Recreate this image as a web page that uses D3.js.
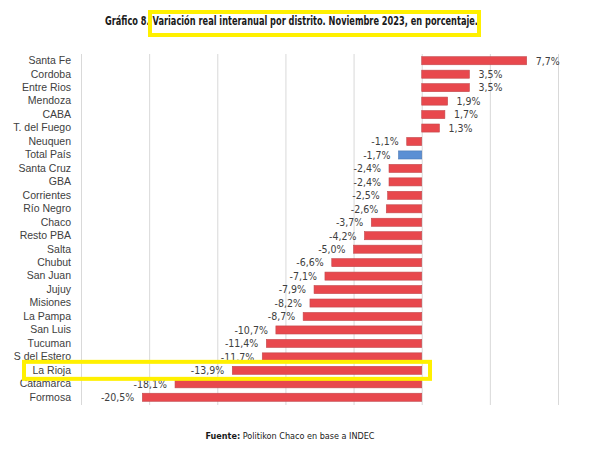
<!DOCTYPE html>
<html>
<head>
<meta charset="utf-8">
<script src="https://cdn.jsdelivr.net/npm/d3@7"></script>
<style>
  body { margin: 0; background: #fff; }
  svg { display: block; font-family: "Liberation Sans Narrow", "DejaVu Sans Condensed", sans-serif; }
</style>
</head>
<body>
<svg id="chart"></svg>
<script>
const districts = [
  "Santa Fe", "Cordoba", "Entre Rios", "Mendoza", "CABA", "T. del Fuego",
  "Neuquen", "Total País", "Santa Cruz", "GBA", "Corrientes", "Río Negro",
  "Chaco", "Resto PBA", "Salta", "Chubut", "San Juan", "Jujuy", "Misiones",
  "La Pampa", "San Luis", "Tucuman", "S del Estero", "La Rioja", "Catamarca", "Formosa"
];
const variation = [
  7.7, 3.5, 3.5, 1.9, 1.7, 1.3,
  -1.1, -1.7, -2.4, -2.4, -2.5, -2.6,
  -3.7, -4.2, -5.0, -6.6, -7.1, -7.9, -8.2,
  -8.7, -10.7, -11.4, -11.7, -13.9, -18.1, -20.5
];
const gridTicks = [-25, -20, -15, -10, -5, 0, 5, 10];

const width = 611, height = 460;
const margin = { top: 54, right: 53, bottom: 56, left: 81 };
const highlightTotal = "Total País";
const highlightRow = "La Rioja";

const data = districts.map((name, i) => ({ name, value: variation[i] }));

const svg = d3.select("#chart")
  .attr("width", width)
  .attr("height", height)
  .attr("viewBox", [0, 0, width, height]);

const x = d3.scaleLinear()
  .domain([-25, 10])
  .range([margin.left, width - margin.right]);

const y = d3.scaleBand()
  .domain(districts)
  .range([margin.top, height - margin.bottom])
  .paddingInner(0.4)
  .paddingOuter(0.2);

const fmt = v => d3.format(".1f")(v).replace("−", "-").replace(".", ",") + "%";

// vertical gridlines
svg.append("g")
  .selectAll("line")
  .data(gridTicks)
  .join("line")
  .attr("x1", d => x(d) + 0.5)
  .attr("x2", d => x(d) + 0.5)
  .attr("y1", margin.top)
  .attr("y2", height - margin.bottom + 1)
  .attr("stroke", "#d9d9d9")
  .attr("stroke-width", 1);

// bars
svg.append("g")
  .selectAll("rect")
  .data(data)
  .join("rect")
  .attr("x", d => x(Math.min(0, d.value)))
  .attr("y", d => y(d.name))
  .attr("width", d => Math.abs(x(d.value) - x(0)))
  .attr("height", y.bandwidth())
  .attr("fill", d => d.name === highlightTotal ? "#5b8fd4" : "#e8484d")
  .attr("stroke", d => d.name === highlightTotal ? "#4a78b4" : "#c24a4e")
  .attr("stroke-width", 0.6);

// value labels
svg.append("g")
  .attr("font-size", 10.5)
  .attr("fill", "#404040")
  .selectAll("text")
  .data(data)
  .join("text")
  .attr("x", d => d.value >= 0 ? x(d.value) + 9 : x(d.value) - 8)
  .attr("y", d => y(d.name) + y.bandwidth() / 2)
  .attr("dy", "0.36em")
  .attr("text-anchor", d => d.value >= 0 ? "start" : "end")
  .text(d => fmt(d.value));

// category axis
const yAxis = g => g
  .attr("transform", `translate(${margin.left - 10},0)`)
  .call(d3.axisLeft(y).tickSize(0).tickPadding(0))
  .call(g => g.select(".domain").remove())
  .call(g => g.selectAll("text")
    .attr("font-family", "inherit")
    .attr("font-size", 10.5)
    .attr("fill", "#404040"));

svg.append("g").call(yAxis);

// title (squeezed to the narrow width of the original font)
svg.append("text")
  .attr("x", 105)
  .attr("y", 25)
  .attr("font-size", 11.5)
  .attr("font-weight", "bold")
  .attr("fill", "#1a1a1a")
  .attr("textLength", 373)
  .attr("lengthAdjust", "spacingAndGlyphs")
  .text("Gráfico 8. Variación real interanual por distrito. Noviembre 2023, en porcentaje.");

// source
const src = svg.append("text")
  .attr("x", 290)
  .attr("y", 439)
  .attr("text-anchor", "middle")
  .attr("font-size", 9)
  .attr("fill", "#1a1a1a");
src.append("tspan").attr("font-weight", "bold").text("Fuente:");
src.append("tspan").text(" Politikon Chaco en base a INDEC");

// yellow highlight boxes
svg.append("rect")
  .attr("x", 150).attr("y", 12)
  .attr("width", 329).attr("height", 23)
  .attr("fill", "none")
  .attr("stroke", "#fff000")
  .attr("stroke-width", 4);

svg.append("rect")
  .attr("x", 24)
  .attr("y", y(highlightRow) + y.bandwidth() / 2 - 8.5)
  .attr("width", 406).attr("height", 17)
  .attr("fill", "none")
  .attr("stroke", "#fff000")
  .attr("stroke-width", 4);
</script>
</body>
</html>
